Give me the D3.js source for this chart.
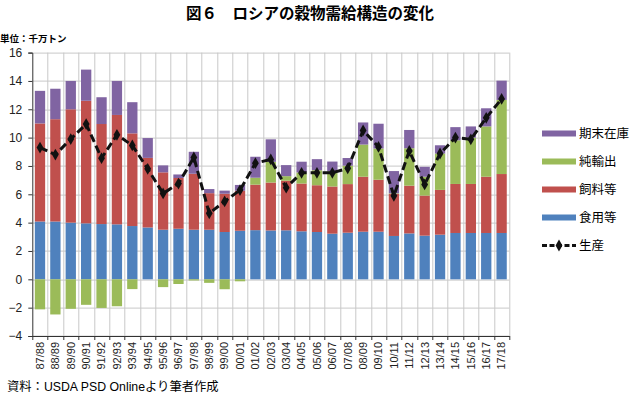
<!DOCTYPE html>
<html>
<head>
<meta charset="utf-8">
<script src="https://cdn.jsdelivr.net/npm/d3@7"></script>
<style>
  body { margin: 0; background: #fff; }
  svg { display: block; font-family: "Liberation Sans", "Noto Sans CJK JP", sans-serif; }
</style>
</head>
<body>
<div id="chart"></div>
<script>
// categories (crop years)
var years = ["87/88","88/89","89/90","90/91","91/92","92/93","93/94","94/95","95/96","96/97",
             "97/98","98/99","99/00","00/01","01/02","02/03","03/04","04/05","05/06","06/07",
             "07/08","08/09","09/10","10/11","11/12","12/13","13/14","14/15","15/16","16/17","17/18"];

// series values, 10 million tons
var food   = [4.08,4.08,4.0,3.95,3.9,3.88,3.76,3.66,3.5,3.57,3.5,3.5,3.34,3.43,3.47,3.45,3.46,3.39,3.34,3.22,3.29,3.36,3.36,3.06,3.24,3.08,3.15,3.27,3.27,3.27,3.27];
var feed   = [6.92,7.22,8.0,8.65,7.06,7.72,6.54,4.91,4.05,3.58,3.95,2.58,2.7,2.82,3.21,3.38,3.5,3.37,3.3,3.33,3.43,3.88,3.67,2.97,3.37,2.83,3.16,3.46,3.46,3.97,4.16];
var netExp = [-2.12,-2.48,-2.08,-1.8,-2.02,-1.9,-0.69,0,-0.55,-0.33,-0.08,-0.25,-0.7,-0.14,0.49,1.46,0.32,0.78,1.06,1.07,1.3,2.27,2.2,0.04,2.64,1.33,2.57,3.08,3.27,3.55,5.23];
var stock  = [2.3,2.15,2.0,2.2,1.89,2.4,2.2,1.4,0.49,0.25,1.55,0.29,0.22,0.41,1.48,1.59,0.78,0.76,0.78,0.69,0.54,1.56,1.75,1.57,1.29,0.7,0.58,0.93,0.79,1.28,1.36];
var production = [9.3,8.8,9.9,10.96,8.55,10.2,9.45,7.8,6.06,6.76,8.6,4.66,5.5,6.3,8.2,8.46,6.47,7.52,7.52,7.52,7.83,10.51,9.34,5.89,9.06,6.7,8.88,10.0,9.88,11.4,12.73];

var yTicks = [-4,-2,0,2,4,6,8,10,12,14,16];

var seriesKeys   = ["food","feed","netExp","stock"];
var seriesNames  = {food: "食用等", feed: "飼料等", netExp: "純輸出", stock: "期末在庫"};
var seriesColors = {food: "#4f81bd", feed: "#c0504d", netExp: "#9bbb59", stock: "#8064a2"};

var rows = years.map(function(y, i) {
  return {year: y, food: food[i], feed: feed[i], netExp: netExp[i], stock: stock[i], prod: production[i]};
});

var W = 631, H = 394;
var margin = {top: 52.6, right: 121.7, bottom: 58, left: 32.3};
var width = W - margin.left - margin.right,
    height = H - margin.top - margin.bottom;

var svg = d3.select("#chart").append("svg")
    .attr("width", W)
    .attr("height", H);

// title and notes
svg.append("text")
    .attr("x", 310).attr("y", 18.5)
    .attr("text-anchor", "middle")
    .style("font-family", "'Noto Sans CJK JP'")
    .style("font-weight", "bold")
    .style("font-size", "15.5px")
    .text("図６　ロシアの穀物需給構造の変化");

svg.append("text")
    .attr("x", 0).attr("y", 42)
    .style("font-family", "'Noto Sans CJK JP'")
    .style("font-weight", "bold")
    .style("font-size", "9.5px")
    .text("単位：千万トン");

svg.append("text")
    .attr("x", 7).attr("y", 391)
    .style("font-size", "12.3px")
    .text("資料：USDA PSD Onlineより筆者作成");

var g = svg.append("g")
    .attr("transform", "translate(" + margin.left + "," + margin.top + ")");

var x = d3.scaleBand()
    .domain(years)
    .range([0, width])
    .paddingInner(0.33)
    .paddingOuter(0.165);

var y = d3.scaleLinear()
    .domain([-4, 16])
    .range([height, 0]);

// grid lines
g.append("g").selectAll("line")
    .data(yTicks)
    .enter().append("line")
    .attr("x1", 0).attr("x2", width)
    .attr("y1", function(d) { return Math.round(y(d)) + 0.5; })
    .attr("y2", function(d) { return Math.round(y(d)) + 0.5; })
    .style("stroke", "#c8c8c8");

var step = width / years.length;
g.append("g").selectAll("line")
    .data(d3.range(1, years.length + 1))
    .enter().append("line")
    .attr("x1", function(d) { return Math.round(d * step) + 0.5; })
    .attr("x2", function(d) { return Math.round(d * step) + 0.5; })
    .attr("y1", 0).attr("y2", height)
    .style("stroke", "#c8c8c8");

// stacked bars, negatives go below zero
var stacked = d3.stack()
    .keys(seriesKeys)
    .offset(d3.stackOffsetDiverging)(rows);

g.append("g").selectAll("g")
    .data(stacked)
    .enter().append("g")
    .style("fill", function(d) { return seriesColors[d.key]; })
  .selectAll("rect")
    .data(function(d) { return d; })
    .enter().append("rect")
    .attr("x", function(d) { return x(d.data.year); })
    .attr("width", x.bandwidth())
    .attr("y", function(d) { return y(Math.max(d[0], d[1])); })
    .attr("height", function(d) { return Math.abs(y(d[0]) - y(d[1])); });

// axes
var yAxis = g.append("g")
    .call(d3.axisLeft(y).tickValues(yTicks).tickSize(4).tickPadding(6)
      .tickFormat(function(d) { return d < 0 ? "\u2212" + Math.abs(d) : d; }));
yAxis.selectAll("text").style("font-size", "12px").style("fill", "#222");
yAxis.selectAll("line, path").style("stroke", "#333");

var xAxis = g.append("g")
    .attr("transform", "translate(0," + height + ")")
    .call(d3.axisBottom(x).tickSize(0).tickPadding(0));
xAxis.select(".domain").style("stroke", "#333");
xAxis.selectAll("text")
    .style("font-size", "11px")
    .style("fill", "#222")
    .style("text-anchor", "end")
    .attr("dx", "-6px")
    .attr("dy", "0.35em")
    .attr("y", 0)
    .attr("transform", "rotate(-90)");

// boundary ticks under the x axis
g.append("g").selectAll("line")
    .data(d3.range(0, years.length + 1))
    .enter().append("line")
    .attr("x1", function(d) { return Math.round(d * step) + 0.5; })
    .attr("x2", function(d) { return Math.round(d * step) + 0.5; })
    .attr("y1", height).attr("y2", height + 4)
    .style("stroke", "#333");

// production line
var line = d3.line()
    .x(function(d) { return x(d.year) + x.bandwidth() / 2; })
    .y(function(d) { return y(d.prod); });

g.append("path")
    .datum(rows)
    .attr("d", line)
    .style("fill", "none")
    .style("stroke", "#111")
    .style("stroke-width", 3)
    .style("stroke-dasharray", "8,4");

var diamond = d3.symbol().type(d3.symbolDiamond).size(40);
g.append("g").selectAll("path")
    .data(rows)
    .enter().append("path")
    .attr("d", diamond)
    .attr("transform", function(d) {
      return "translate(" + (x(d.year) + x.bandwidth() / 2) + "," + y(d.prod) + ")";
    })
    .style("fill", "#111");

// legend
var legendItems = ["stock", "netExp", "feed", "food"];
var legend = svg.append("g").attr("transform", "translate(542,0)");
legendItems.forEach(function(k, i) {
  var cy = 133.5 + i * 28;
  legend.append("rect")
      .attr("x", 0).attr("y", cy - 3)
      .attr("width", 34).attr("height", 6)
      .style("fill", seriesColors[k]);
  legend.append("text")
      .attr("x", 37).attr("y", cy + 4.5)
      .style("font-family", "'Noto Sans CJK JP'")
      .style("font-size", "12.5px")
      .text(seriesNames[k]);
});
var ly = 133.5 + 4 * 28;
legend.append("line")
    .attr("x1", 0).attr("x2", 34)
    .attr("y1", ly).attr("y2", ly)
    .style("stroke", "#111")
    .style("stroke-width", 3)
    .style("stroke-dasharray", "5,2.5");
legend.append("path")
    .attr("d", diamond)
    .attr("transform", "translate(17," + ly + ")")
    .style("fill", "#111");
legend.append("text")
    .attr("x", 37).attr("y", ly + 4.5)
    .style("font-family", "'Noto Sans CJK JP'")
    .style("font-size", "12.5px")
    .text("生産");
</script>
</body>
</html>
